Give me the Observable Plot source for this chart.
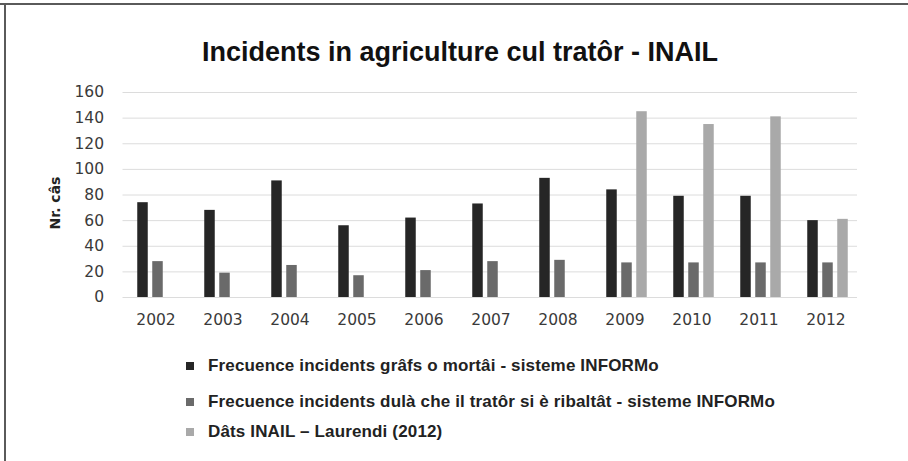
<!DOCTYPE html>
<html>
<head>
<meta charset="utf-8">
<script src="https://cdn.jsdelivr.net/npm/d3@7"></script>
<script src="https://cdn.jsdelivr.net/npm/@observablehq/plot@0.6"></script>
<style>
  html, body { margin: 0; padding: 0; background: #fff; }
  #wrap { position: relative; width: 908px; height: 461px; overflow: hidden; background: #fff; }
  .frameTop { position: absolute; left: 0; top: 3px; width: 908px; height: 2px; background: #5a5a5a; }
  .frameLeft { position: absolute; left: 4px; top: 3px; width: 2px; height: 458px; background: #5a5a5a; }
  #title { position: absolute; left: 6px; top: 37px; width: 908px; text-align: center;
           font: bold 27px "Liberation Sans", Arial, sans-serif; color: #111; }
  #ylabel { position: absolute; left: 55px; top: 203px; transform: translate(-50%, -50%) rotate(-90deg);
            font: bold 14px "DejaVu Sans", sans-serif; color: #222; white-space: nowrap; }
  #plot { position: absolute; left: 0; top: 70px; }
  #legend { position: absolute; left: 186px; top: 0; font: bold 17px "Liberation Sans", Arial, sans-serif;
            letter-spacing: 0.15px; color: #222; }
  .row { position: absolute; left: 0; height: 20px; line-height: 20px; white-space: nowrap; }
  .sw { position: absolute; left: 0; top: 6px; width: 8px; height: 8px; }
  .txt { position: absolute; left: 22px; top: 0; }
</style>
</head>
<body>
<div id="wrap">
  <div class="frameTop"></div>
  <div class="frameLeft"></div>
  <div id="title"></div>
  <div id="ylabel"></div>
  <div id="plot"></div>
  <div id="legend"></div>
</div>
<script>
const titleText = "Incidents in agriculture cul tratôr - INAIL";
const yLabel = "Nr. câs";
const years = ["2002","2003","2004","2005","2006","2007","2008","2009","2010","2011","2012"];
const seriesNames = [
  "Frecuence incidents grâfs o mortâi - sisteme INFORMo",
  "Frecuence incidents dulà che il tratôr si è ribaltât - sisteme INFORMo",
  "Dâts INAIL – Laurendi (2012)"
];
const seriesColors = ["#262626", "#6a6a6a", "#a9a9a9"];
const gravesMortai = [74, 68, 91, 56, 62, 73, 93, 84, 79, 79, 60];
const ribaltat = [28, 19, 25, 17, 21, 28, 29, 27, 27, 27, 27];
const inailYears = ["2009","2010","2011","2012"];
const inail = [145, 135, 141, 61];
const yTicks = [0, 20, 40, 60, 80, 100, 120, 140, 160];

document.getElementById("title").textContent = titleText;
document.getElementById("ylabel").textContent = yLabel;

const d0 = years.map((y, i) => ({year: y, value: gravesMortai[i]}));
const d1 = years.map((y, i) => ({year: y, value: ribaltat[i]}));
const d2 = inailYears.map((y, i) => ({year: y, value: inail[i]}));

const barW = 11;
const slot = 15;
const step = (862 - 119.5) / years.length;
const inset = (step - barW) / 2;

const chart = Plot.plot({
  width: 908,
  height: 270,
  marginLeft: 119.5,
  marginRight: 46,
  marginTop: 22,
  marginBottom: 43,
  style: { background: "transparent", fontFamily: "DejaVu Sans, sans-serif" },
  x: { domain: years, padding: 0, label: null },
  y: { domain: [0, 160], ticks: yTicks, label: null },
  marks: [
    Plot.gridY(yTicks, { stroke: "#dcdcdc", strokeOpacity: 1, insetLeft: 3, insetRight: 5 }),
    Plot.axisY({ ticks: yTicks, tickSize: 0, tickPadding: 16, fontSize: 15.5, fill: "#3a3a3a", label: null }),
    Plot.axisX({ tickSize: 0, tickPadding: 16, fontSize: 15.5, fill: "#3a3a3a", label: null }),
    Plot.barY(d0, { x: "year", y: "value", fill: seriesColors[0], insetLeft: inset, insetRight: inset, dx: -slot + 2 }),
    Plot.barY(d1, { x: "year", y: "value", fill: seriesColors[1], insetLeft: inset, insetRight: inset, dx: 2 }),
    Plot.barY(d2, { x: "year", y: "value", fill: seriesColors[2], insetLeft: inset, insetRight: inset, dx: slot + 2 })
  ]
});
document.getElementById("plot").appendChild(chart);

const legend = document.getElementById("legend");
const rowCenters = [366, 402, 432];
seriesNames.forEach((name, i) => {
  const row = document.createElement("div");
  row.className = "row";
  row.style.top = (rowCenters[i] - 10) + "px";
  row.innerHTML = `<span class="sw" style="background:${seriesColors[i]}"></span><span class="txt"></span>`;
  row.querySelector(".txt").textContent = name;
  legend.appendChild(row);
});
</script>
</body>
</html>
